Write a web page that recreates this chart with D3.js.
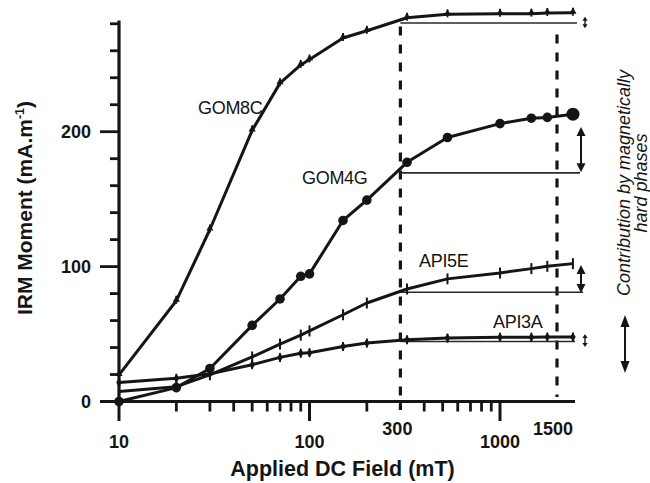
<!DOCTYPE html>
<html><head><meta charset="utf-8">
<script src="https://cdn.jsdelivr.net/npm/d3@7"></script>
<style>
body{margin:0;background:#fff}
svg{display:block}
text{font-family:"Liberation Sans",Arial,Helvetica,sans-serif;fill:#151515}
</style>
</head><body><svg id="c" width="650" height="483"></svg>
<script>
// ---- data ----
const fields = [10,20,30,50,70,90,100,150,200,325,530,1000,1250,1400,1680];
const gom8c = [19.7,74.7,127.5,201,236,249.5,253.5,269.5,274.8,284.5,287,287.4,287.5,288,288.2];
const gom4g = [0,10.3,24.5,56.4,76,92.8,94.6,134.2,149.3,177.3,195.7,206,210,210.6,213];
const api5e = [7.5,11,19.8,33,42.6,49.2,52.3,64.3,73,83.4,90.9,95.3,98.5,100.2,102.2];
const api3a = [14,17.2,20.5,27.3,32.7,35.8,36.2,40.7,43.3,45.8,47,47.6,47.7,47.8,47.9];
const seriesNames = ["GOM8C","GOM4G","API5E","API3A"];
const ref300 = [280.6,169.5,81,44.5];
const arrowRanges = [[285.3,276.7],[203.5,170],[101.2,80.4],[50,40.4]];
const xTickValues = [10,100,300,1000,1500];
const xTickLabels = ["10","100","300","1000","1500"];
const xMinorTicks = [20,30,40,50,60,70,80,90,200,300,400,500,600,700,800,900];
const yTickValues = [0,20,40,60,80,100,120,140,160,180,200,220,240,260,280];
const yLabelValues = [0,100,200];
const dashedFields = [300,1500];
const xTitle = "Applied DC Field (mT)";
const yTitle = "IRM Moment (mA.m";
const sideText = ["Contribution by magnetically","hard phases"];

// ---- scales ----
const x = d3.scaleLog().domain([10,1000,1500]).range([119,500,557]);
const y = d3.scaleLinear().domain([0,200]).range([401.5,131.7]);
const svg = d3.select("#c");
const ink = "#151515";

// ---- dashed verticals ----
svg.append("line").attr("x1",x(300)).attr("x2",x(300)).attr("y1",y(281)).attr("y2",410)
  .attr("stroke",ink).attr("stroke-width",3.2).attr("stroke-dasharray","9,9").attr("stroke-dashoffset",-4);
svg.append("line").attr("x1",x(1500)).attr("x2",x(1500)).attr("y1",y(272)).attr("y2",397)
  .attr("stroke",ink).attr("stroke-width",3.2).attr("stroke-dasharray","9,9");

// ---- axes ----
svg.append("line").attr("x1",x(10)).attr("x2",x(10)).attr("y1",y(0)+1.5).attr("y2",y(282.5))
  .attr("stroke",ink).attr("stroke-width",3.2);
svg.append("line").attr("x1",100).attr("x2",575).attr("y1",y(0)).attr("y2",y(0))
  .attr("stroke",ink).attr("stroke-width",3.2);
svg.selectAll(".yt").data(yTickValues).join("line")
  .attr("x1",d=>yLabelValues.includes(d)?100:110).attr("x2",x(10))
  .attr("y1",d=>y(d)).attr("y2",d=>y(d)).attr("stroke",ink).attr("stroke-width",2.8);
svg.selectAll(".yl").data(yLabelValues).join("text")
  .attr("x",91).attr("y",d=>y(d)+6.5).attr("text-anchor","end")
  .attr("font-size",18).attr("font-weight","bold").text(d=>d);
svg.selectAll(".xm").data(xMinorTicks).join("line")
  .attr("x1",d=>x(d)).attr("x2",d=>x(d)).attr("y1",y(0)).attr("y2",d=>d===300?410:411.5)
  .attr("stroke",ink).attr("stroke-width",2.8);
svg.selectAll(".xM").data([10,100,1000]).join("line")
  .attr("x1",d=>x(d)).attr("x2",d=>x(d)).attr("y1",y(0)).attr("y2",421)
  .attr("stroke",ink).attr("stroke-width",3);
svg.selectAll(".xl").data(xTickValues).join("text")
  .attr("x",(d,i)=>x(d)+(i===2?-3:(i===4?-4:0)))
  .attr("y",d=>dashedFields.includes(d)?435:447.5)
  .attr("text-anchor","middle").attr("font-size",18).attr("font-weight","bold")
  .text((d,i)=>xTickLabels[i]);

svg.append("text").attr("x",342.5).attr("y",476).attr("text-anchor","middle")
  .attr("font-size",21.5).attr("font-weight","bold").text(xTitle);
const yt = svg.append("text").attr("transform","translate(32,208) rotate(-90)")
  .attr("text-anchor","middle").attr("font-size",21).attr("font-weight","bold");
yt.append("tspan").text(yTitle);
yt.append("tspan").attr("font-size",12.5).attr("dy",-8.5).text("-1");
yt.append("tspan").attr("dy",8.5).text(")");

// ---- reference lines at 300 mT ----
const lastX = [577,580,583,575];
svg.selectAll(".ref").data(ref300).join("line")
  .attr("x1",x(300)).attr("x2",(d,i)=>lastX[i]).attr("y1",d=>y(d)).attr("y2",d=>y(d))
  .attr("stroke","#2a2a2a").attr("stroke-width",1.6);

// ---- curves ----
const allSeries = [gom8c,gom4g,api5e,api3a];
const line = d3.line().x((d,i)=>x(fields[i])).y(d=>y(d)).curve(d3.curveLinear);
svg.selectAll(".curve").data(allSeries).join("path")
  .attr("d",line).attr("fill","none").attr("stroke",ink).attr("stroke-width",3)
  .attr("stroke-linejoin","round");

// markers
allSeries.forEach((s,si)=>{
  const g = svg.append("g");
  s.forEach((v,i)=>{
    const px = x(fields[i]), py = y(v);
    if(si===1){
      g.append("circle").attr("cx",px).attr("cy",py).attr("r",i===s.length-1?6.5:4.8).attr("fill",ink);
    } else if(si===0){
      g.append("path").attr("d",d3.symbol(d3.symbolTriangle,22)()).attr("transform",`translate(${px},${py-1})`).attr("fill",ink);
      g.append("line").attr("x1",px).attr("x2",px).attr("y1",py-5).attr("y2",py+3).attr("stroke",ink).attr("stroke-width",1.8);
    } else if(si===2){
      g.append("line").attr("x1",px).attr("x2",px).attr("y1",py-5.5).attr("y2",py+5.5).attr("stroke",ink).attr("stroke-width",2);
    } else {
      g.append("path").attr("d",d3.symbol(d3.symbolDiamond,26)()).attr("transform",`translate(${px},${py})`).attr("fill",ink);
      g.append("line").attr("x1",px).attr("x2",px).attr("y1",py-4.5).attr("y2",py+4.5).attr("stroke",ink).attr("stroke-width",1.8);
    }
  });
});

// ---- series labels ----
const labelPos = [[198,113.5],[302,183.5],[419,267],[493,328]];
svg.selectAll(".lab").data(seriesNames).join("text")
  .attr("x",(d,i)=>labelPos[i][0]).attr("y",(d,i)=>labelPos[i][1])
  .attr("font-size",18).attr("letter-spacing",-0.3).text(d=>d);

// ---- double arrows ----
function dblArrow(ax, y1, y2, hw, hh, sw){
  const g = svg.append("g");
  g.append("line").attr("x1",ax).attr("x2",ax).attr("y1",y1+hh*0.6).attr("y2",y2-hh*0.6)
    .attr("stroke",ink).attr("stroke-width",sw);
  g.append("path").attr("d",`M${ax},${y1}L${ax-hw},${y1+hh}L${ax+hw},${y1+hh}Z`).attr("fill",ink);
  g.append("path").attr("d",`M${ax},${y2}L${ax-hw},${y2-hh}L${ax+hw},${y2-hh}Z`).attr("fill",ink);
}
const arrowX = [585,581,581,585];
arrowRanges.forEach((r,i)=>{
  const small = (y(r[1])-y(r[0]))<16;
  dblArrow(arrowX[i], y(r[0]), y(r[1]), small?2.6:4.5, small?4:9, small?1.4:2);
});
dblArrow(625,315,373,4.5,12,2);

// ---- side text ----
const st = svg.append("text").attr("transform","translate(630,183) rotate(-90)")
  .attr("text-anchor","middle").attr("font-size",18).attr("font-style","italic");
st.append("tspan").attr("x",0).attr("dy",0).text(sideText[0]);
st.append("tspan").attr("x",0).attr("dy",17).text(sideText[1]);
</script>
</body></html>
